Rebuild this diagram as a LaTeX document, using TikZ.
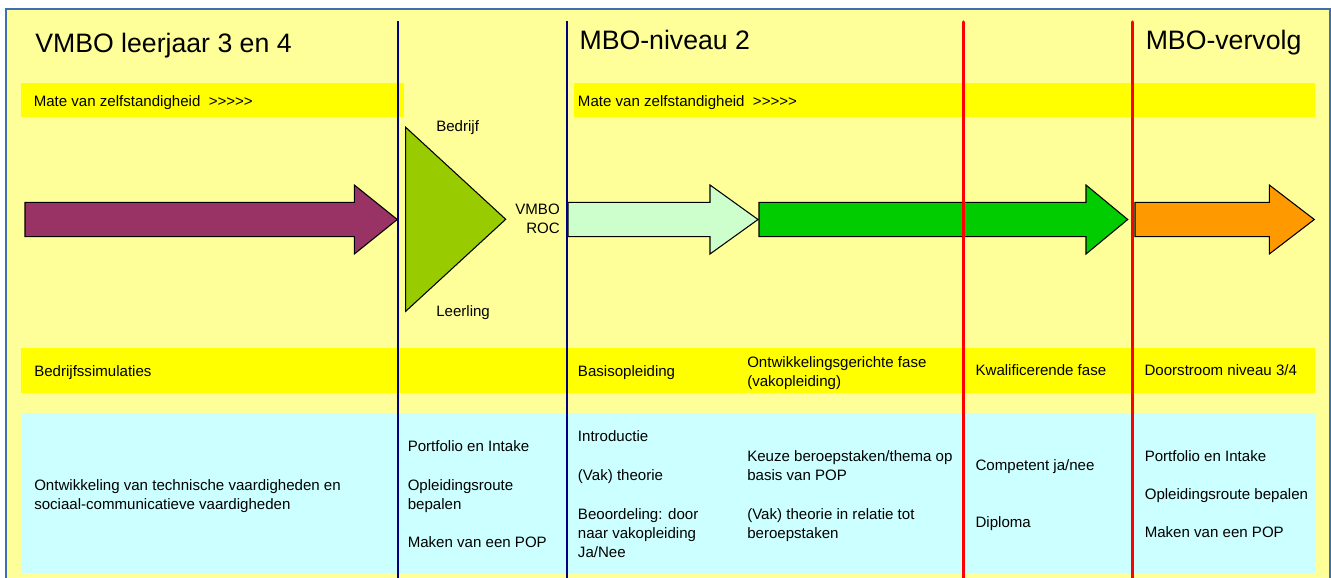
\documentclass[tikz,border=0pt]{standalone}
\usepackage{fontspec}
\setmainfont{Liberation Sans}[Ligatures=TeXOff]
\definecolor{bgyellow}{HTML}{FFFF99}
\definecolor{bandyellow}{HTML}{FFFF00}
\definecolor{cyanbox}{HTML}{CCFFFF}
\definecolor{purplearrow}{HTML}{993366}
\definecolor{olivetri}{HTML}{99CC00}
\definecolor{lightgreen}{HTML}{CCFFCC}
\definecolor{midgreen}{HTML}{00CC00}
\definecolor{orangearrow}{HTML}{FF9900}
\definecolor{navyline}{HTML}{000080}
\definecolor{framecol}{HTML}{3F6FB0}
\newcommand\smtxt{\fontsize{11.3pt}{14.25pt}\selectfont}
\newcommand\bigtxt{\fontsize{20pt}{24pt}\selectfont}
\begin{document}
\begin{tikzpicture}[x=0.75pt,y=-0.75pt,
  txt/.style={anchor=base west,inner sep=0pt,font=\smtxt},
  rtxt/.style={anchor=base east,inner sep=0pt,font=\smtxt},
  ttl/.style={anchor=base west,inner sep=0pt,font=\bigtxt},
  outl/.style={draw=black,line width=0.8pt,line join=miter},
  vblue/.style={draw=navyline,line width=1.5pt},
  vred/.style={draw=red,line width=2.3pt,line cap=round}]
\useasboundingbox (0,0) rectangle (1331,578);
% background and frame
\fill[bgyellow] (6,9) rectangle (1330,578);
\draw[framecol,line width=0.9pt] (6,578) -- (6,9) -- (1330,9) -- (1330,578);
% bands
\fill[bandyellow] (21,83.3) rectangle (404,116.7);
\fill[bandyellow] (574,83.3) rectangle (1315,116.7);
\fill[bandyellow] (21,348.3) rectangle (1315,392.7);
\fill[cyanbox] (21,413.3) rectangle (1315,573.3);
% arrows
\filldraw[fill=purplearrow,outl] (25,202.3) -- (354.3,202.3) -- (354.3,185) -- (397.3,219.5) -- (354.3,254) -- (354.3,236.7) -- (25,236.7) -- cycle;
\filldraw[fill=olivetri,outl] (405.7,127.3) -- (505.7,219.3) -- (405.7,311.3) -- cycle;
\filldraw[fill=lightgreen,outl] (568,202.3) -- (710,202.3) -- (710,185) -- (758,219.5) -- (710,254) -- (710,236.7) -- (568,236.7) -- cycle;
\filldraw[fill=midgreen,outl] (759,202.3) -- (1086,202.3) -- (1086,185) -- (1127.7,219.5) -- (1086,254) -- (1086,236.7) -- (759,236.7) -- cycle;
\filldraw[fill=orangearrow,outl] (1135,202.3) -- (1269.3,202.3) -- (1269.3,185) -- (1314.3,219.5) -- (1269.3,254) -- (1269.3,236.7) -- (1135,236.7) -- cycle;
% vertical lines
\draw[vblue] (398.3,21) -- (398.3,578);
\draw[vblue] (567,21) -- (567,578);
\draw[vred] (963.3,22) -- (963.3,580);
\draw[vred] (1132.3,22) -- (1132.3,580);
% titles
\node[ttl] (t1) at (35,52.3) {VMBO leerjaar 3 en 4};
\node[ttl] (t2) at (579.3,49.3) {MBO-niveau 2};
\node[ttl] (t3) at (1145.5,49.3) {MBO-vervolg};
% top bands text
\node[txt] (m1) at (33.5,106) {Mate van zelfstandigheid\ \ >>>>>};
\node[txt] (m2) at (577.7,106) {Mate van zelfstandigheid\ \ >>>>>};
% triangle labels
\node[txt] (bedrijf) at (436,131.7) {Bedrijf};
\node[txt] (leerling) at (436,316.7) {Leerling};
\node[rtxt] (vmbo) at (560,214) {VMBO};
\node[rtxt] (roc) at (560,233) {ROC};
% lower band text
\node[txt] (b1) at (34,376.7) {Bedrijfssimulaties};
\node[txt] (b2) at (577.7,376) {Basisopleiding};
\node[txt] (b3a) at (747,367.3) {Ontwikkelingsgerichte fase};
\node[txt] (b3b) at (747,386.5) {(vakopleiding)};
\node[txt] (b4) at (975.3,375.7) {Kwalificerende fase};
\node[txt] (b5) at (1144.3,375.5) {Doorstroom niveau 3/4};
% cyan box text
\node[txt] (c1a) at (34,490.7) {Ontwikkeling van technische vaardigheden en};
\node[txt] (c1b) at (34,509.5) {sociaal-communicatieve vaardigheden};
\node[txt] (c2a) at (407.5,451) {Portfolio en Intake};
\node[txt] (c2b) at (407.5,490) {Opleidingsroute};
\node[txt] (c2c) at (407.5,509) {bepalen};
\node[txt] (c2d) at (407.5,547.3) {Maken van een POP};
\node[txt] (c3a) at (577.7,441) {Introductie};
\node[txt] (c3b) at (577.7,480) {(Vak) theorie};
\node[txt] (c3c) at (577.7,519) {Beoordeling: door};
\node[txt] (c3d) at (577.7,538) {naar vakopleiding};
\node[txt] (c3e) at (577.7,557) {Ja/Nee};
\node[txt] (c4a) at (747,461.7) {Keuze beroepstaken/thema op};
\node[txt] (c4b) at (747,480.7) {basis van POP};
\node[txt] (c4c) at (747,519) {(Vak) theorie in relatie tot};
\node[txt] (c4d) at (747,538) {beroepstaken};
\node[txt] (c5a) at (975.3,470) {Competent ja/nee};
\node[txt] (c5b) at (975.3,527.7) {Diploma};
\node[txt] (c6a) at (1144.5,461) {Portfolio en Intake};
\node[txt] (c6b) at (1144.5,499) {Opleidingsroute bepalen};
\node[txt] (c6c) at (1144.5,537.7) {Maken van een POP};
\end{tikzpicture}
\end{document}
